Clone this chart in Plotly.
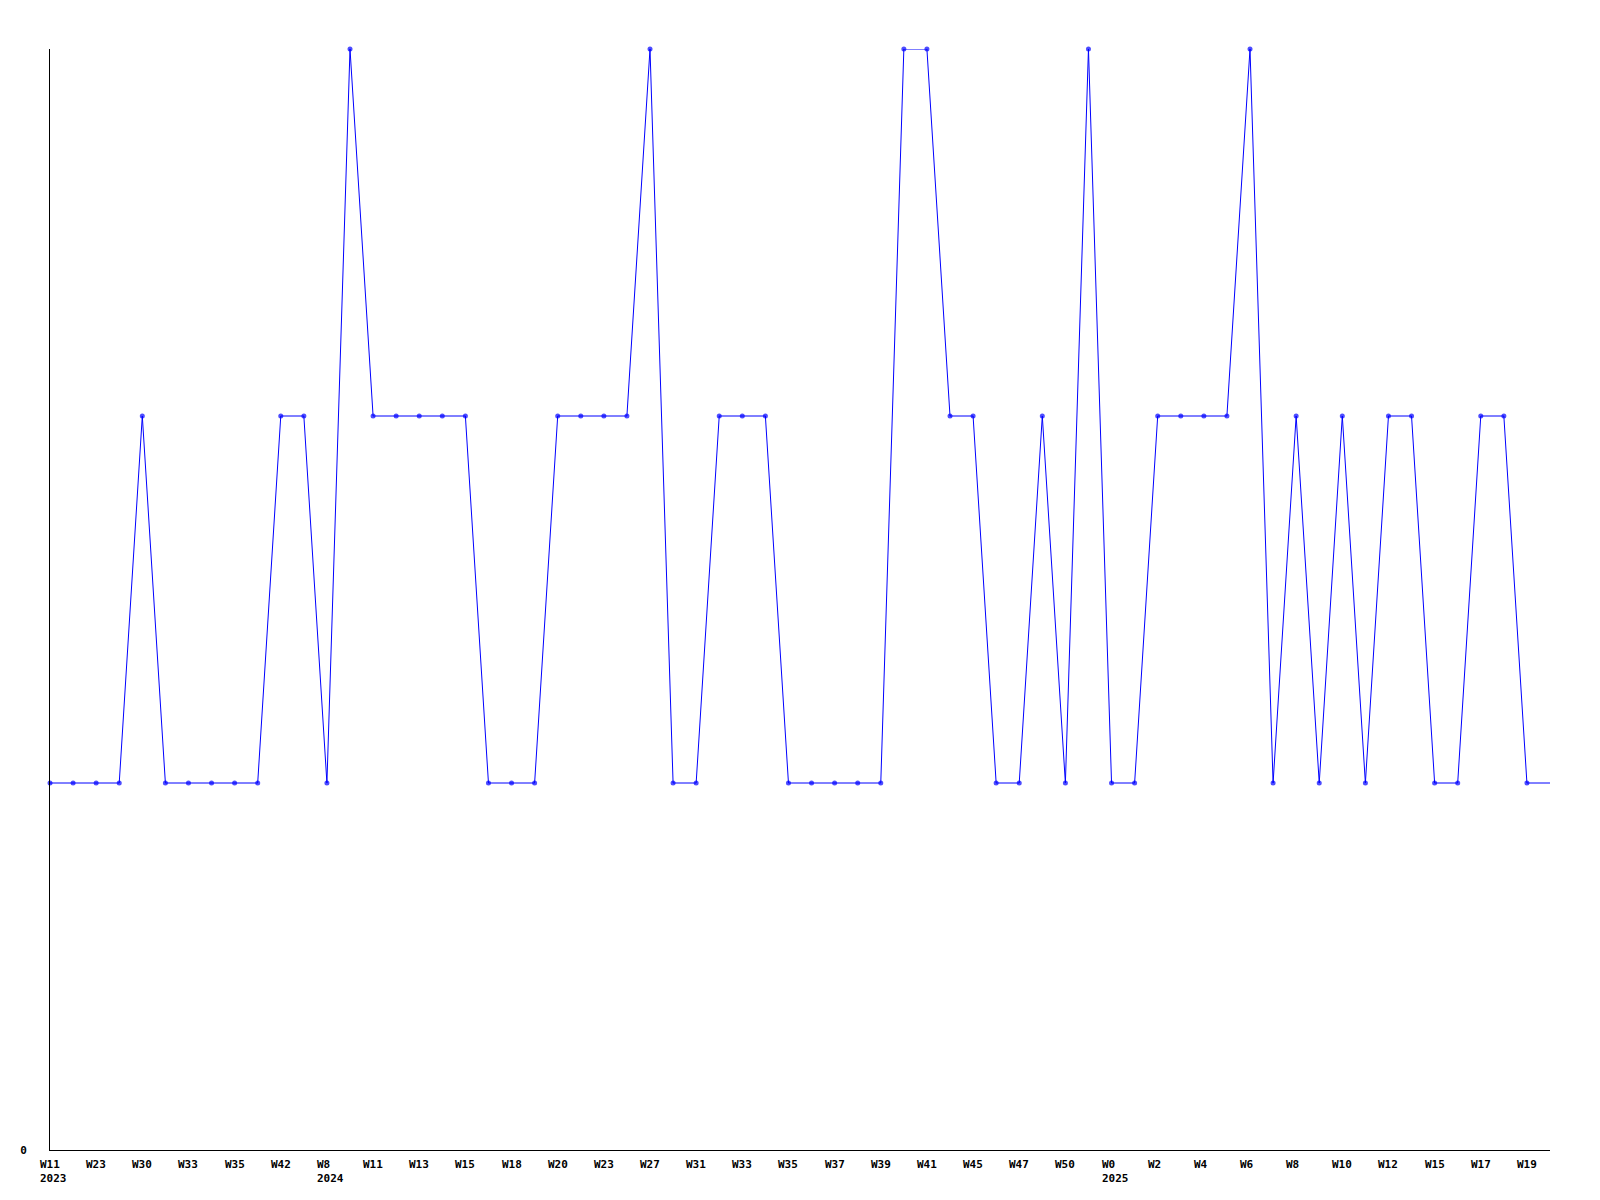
import plotly.graph_objects as go

# Values per week (index positions), last entry is the line continuing to the axis end
values = [1, 1, 1, 1, 2, 1, 1, 1, 1, 1,
          2, 2, 1, 3, 2, 2, 2, 2, 2, 1,
          1, 1, 2, 2, 2, 2, 3, 1, 1, 2,
          2, 2, 1, 1, 1, 1, 1, 3, 3, 2,
          2, 1, 1, 2, 1, 3, 1, 1, 2, 2,
          2, 2, 3, 1, 2, 1, 2, 1, 2, 2,
          1, 1, 2, 2, 1,
          1]
n_marked = 65

week_labels = ["W11", "W23", "W30", "W33", "W35", "W42", "W8", "W11", "W13", "W15",
               "W18", "W20", "W23", "W27", "W31", "W33", "W35", "W37", "W39", "W41",
               "W45", "W47", "W50", "W0", "W2", "W4", "W6", "W8", "W10", "W12",
               "W15", "W17", "W19"]
year_labels = ["2023", "", "", "", "", "", "2024", "", "", "",
               "", "", "", "", "", "", "", "", "", "",
               "", "", "", "2025", "", "", "", "", "", "",
               "", "", ""]

FONT = "DejaVu Sans Mono"
BLUE = "#0000FF"

xs = list(range(len(values)))
sizes = [5] * n_marked + [0] * (len(values) - n_marked)

fig = go.Figure()
fig.add_trace(go.Scatter(
    x=xs, y=values, mode="lines+markers",
    line=dict(color=BLUE, width=1),
    marker=dict(color=BLUE, size=sizes, symbol="circle", line=dict(width=0)),
    hoverinfo="skip", showlegend=False, cliponaxis=False,
))

annotations = []
for k, (w, yr) in enumerate(zip(week_labels, year_labels)):
    txt = f"<b>{w}</b>" + (f"<br><b>{yr}</b>" if yr else "")
    annotations.append(dict(
        x=2 * k, xref="x", y=0, yref="paper",
        text=txt, showarrow=False, xanchor="left", yanchor="top", align="left",
        xshift=-12, yshift=-6,
        font=dict(family=FONT, size=11, color="black"),
    ))

fig.update_layout(
    width=1600, height=1200,
    margin=dict(l=50, r=50, t=49, b=50),
    paper_bgcolor="white", plot_bgcolor="white",
    annotations=annotations,
    xaxis=dict(range=[0, len(values) - 1], showgrid=False, zeroline=False,
               showline=True, linecolor="black", linewidth=1,
               showticklabels=False, ticks=""),
    yaxis=dict(range=[0, 3], showgrid=False, zeroline=False,
               showline=True, linecolor="black", linewidth=1,
               tickvals=[0], ticktext=["<b>0</b>"], ticks="outside",
               ticklen=20, tickcolor="white",
               tickfont=dict(family=FONT, size=11, color="black")),
)

fig.write_html("out.html", config={"displayModeBar": False},
               post_script="document.body.style.margin='0px';")
